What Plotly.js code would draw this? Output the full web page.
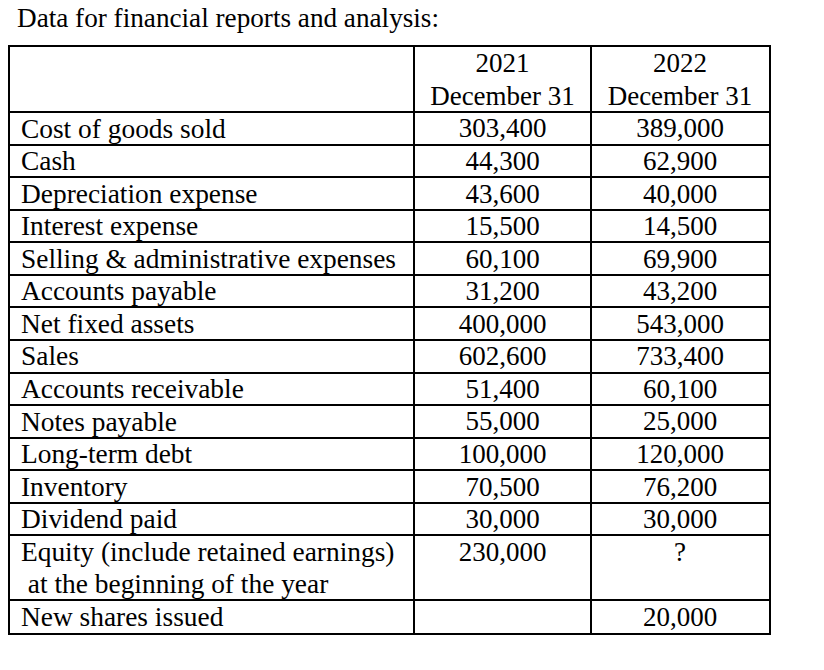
<!DOCTYPE html>
<html>
<head>
<meta charset="utf-8">
<script src="https://cdn.plot.ly/plotly-3.0.1.min.js"></script>
<style>html,body{margin:0;padding:0;background:#fff;}#chart{width:824px;height:670px;}</style>
</head>
<body>
<div id="chart"></div>
<script>
// ---- data ----
var titleText = 'Data for financial reports and analysis:';
var columnHeaders = ['2021<br>December 31', '2022<br>December 31'];
var categories = [
  'Cost of goods sold',
  'Cash',
  'Depreciation expense',
  'Interest expense',
  'Selling & administrative expenses',
  'Accounts payable',
  'Net fixed assets',
  'Sales',
  'Accounts receivable',
  'Notes payable',
  'Long-term debt',
  'Inventory',
  'Dividend paid',
  'Equity (include retained earnings)<br> at the beginning of the year',
  'New shares issued'
];
var values2021 = [303400, 44300, 43600, 15500, 60100, 31200, 400000, 602600, 51400, 55000, 100000, 70500, 30000, 230000, null];
var values2022 = [389000, 62900, 40000, 14500, 69900, 43200, 543000, 733400, 60100, 25000, 120000, 76200, 30000, '?', 20000];

// ---- layout constants ----
var colWidths = [404, 177, 178];
var labelPad = 11;
var FONT = 'Liberation Serif, Times New Roman, serif';
var FS = 27;
var LABEL_FS = 27.4;
var textShift = 0.07; // small downward shift of text within a line (row units)

function fmt(v) {
  if (v === null || v === undefined) return '';
  if (typeof v === 'number') return v.toLocaleString('en-US');
  return String(v);
}
function lines(s) { return s.split('<br>'); }

// row structure: header + categories
var headerLines = Math.max.apply(null, columnHeaders.map(function (h) { return lines(h).length; }));
var rowTops = [], rowLines = [];
var y = headerLines;
categories.forEach(function (c) {
  var n = lines(c).length;
  rowTops.push(y); rowLines.push(n); y += n;
});
var totalUnits = y;
var yBounds = [0, headerLines].concat(rowTops.map(function (t, i) { return t + rowLines[i]; }));

var xBounds = [0];
colWidths.forEach(function (w) { xBounds.push(xBounds[xBounds.length - 1] + w); });
var colCenters = [1, 2].map(function (i) { return (xBounds[i] + xBounds[i + 1]) / 2; });

// label trace
var lx = [], ly = [], lt = [];
categories.forEach(function (c, i) {
  lines(c).forEach(function (ln, j) {
    lx.push(xBounds[0] + labelPad); ly.push(rowTops[i] + j + 0.5 + textShift); lt.push(ln);
  });
});
// header trace
var hx = [], hy = [], ht = [];
columnHeaders.forEach(function (h, k) {
  lines(h).forEach(function (ln, j) {
    hx.push(colCenters[k]); hy.push(j + 0.5 + textShift); ht.push(ln);
  });
});
function valueTrace(vals, k) {
  return {
    type: 'scatter', mode: 'text', hoverinfo: 'skip', showlegend: false,
    x: vals.map(function () { return colCenters[k]; }),
    y: rowTops.map(function (t) { return t + 0.5 + textShift; }),
    text: vals.map(fmt),
    textposition: 'middle center',
    textfont: {family: FONT, size: FS, color: '#000'}
  };
}

var traces = [
  {type: 'scatter', mode: 'text', hoverinfo: 'skip', showlegend: false,
   x: lx, y: ly, text: lt, textposition: 'middle right',
   textfont: {family: FONT, size: LABEL_FS, color: '#000'}},
  {type: 'scatter', mode: 'text', hoverinfo: 'skip', showlegend: false,
   x: hx, y: hy, text: ht, textposition: 'middle center',
   textfont: {family: FONT, size: FS, color: '#000'}},
  valueTrace(values2021, 0),
  valueTrace(values2022, 1)
];

var layout = {
  width: 824, height: 670,
  margin: {l: 10, r: 55, t: 47, b: 37},
  paper_bgcolor: '#fff', plot_bgcolor: '#fff',
  title: {text: titleText, x: 17 / 824, xanchor: 'left', xref: 'container',
          y: 1 - 17.5 / 670, yanchor: 'middle', yref: 'container',
          font: {family: FONT, size: 27.2, color: '#000'}},
  xaxis: {range: [xBounds[0], xBounds[xBounds.length - 1]], tickmode: 'array', tickvals: xBounds,
          showticklabels: false, ticks: '', showgrid: true, gridcolor: '#000', gridwidth: 2,
          zeroline: false, showline: true, mirror: true, linecolor: '#000', linewidth: 2, fixedrange: true},
  yaxis: {range: [totalUnits, 0], tickmode: 'array', tickvals: yBounds,
          showticklabels: false, ticks: '', showgrid: true, gridcolor: '#000', gridwidth: 2,
          zeroline: false, showline: true, mirror: true, linecolor: '#000', linewidth: 2, fixedrange: true},
  showlegend: false
};

Plotly.newPlot('chart', traces, layout, {staticPlot: true, displayModeBar: false});
</script>
</body>
</html>
